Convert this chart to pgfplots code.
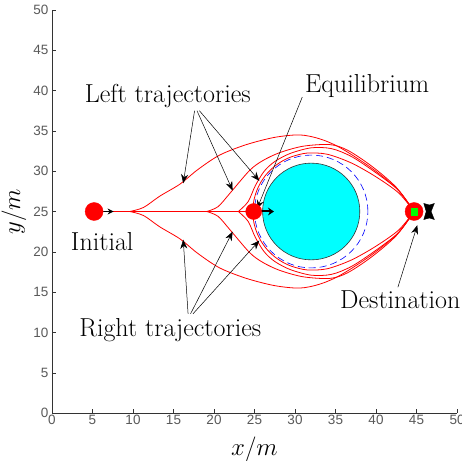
\documentclass[border=0pt]{standalone}
\usepackage{fontspec}
\usepackage{pgfplots}
\pgfplotsset{compat=1.18}
\usetikzlibrary{arrows.meta}
\newfontfamily\ticksf{Liberation Sans}
\newcommand{\labelfont}{\fontsize{26}{29}\selectfont}
\definecolor{mcyan}{rgb}{0,1,1}
\definecolor{mgreen}{rgb}{0,1,0}

\begin{document}
\begin{tikzpicture}
    \begin{axis}[scale only axis,
                 width=405pt,
                 height=403pt,
                 xmin=0, xmax=50,
                 ymin=0, ymax=50,
                 axis lines=left,
                 axis line style={-, black!80},
                 xtick={0,5,...,50},
                 ytick={0,5,...,50},
                 tick align=inside,
                 major tick length=4pt,
                 tick style={black!80},
                 /pgf/number format/assume math mode=true,
                 tick label style={font=\ticksf\fontsize{13.5}{15}\selectfont, text=black!65},
                 xticklabel style={yshift=1pt},
                 xlabel={$x/m$},
                 ylabel={$y/m$},
                 label style={font=\labelfont},
                 xlabel style={at={(axis description cs:0.5,-0.089)}, anchor=center},
                 ylabel style={at={(axis description cs:-0.094,0.5)}, anchor=center},
                 clip=false]

        % trajectories, upper half
        \addplot[red, line width=0.8pt] coordinates {(7.4,25) (25,25)};
        \addplot[red, line width=0.8pt, smooth] coordinates {
            (9.6,25) (11.3,25.5) (13.3,26.9) (15.8,28.4) (18,30.2) (20.7,32)
            (24,33.3) (27.5,34.2) (30.6,34.5) (33.1,34) (35.6,32.9) (39.3,30.5)
            (42.6,27.8) (44.7,25)};
        \addplot[red, line width=0.8pt, smooth] coordinates {
            (19.1,25) (20.5,25.6) (22,27.3) (24.4,30.1) (26,31.3) (28.1,32.3)
            (31,33.1) (34.3,33.3) (36.5,32.6) (39.5,30.6) (42.5,28) (44.7,25)};
        \addplot[red, line width=0.8pt, smooth] coordinates {
            (23,25) (24.2,26.2) (25.1,28.2) (26.2,30) (27.5,31.2) (29.4,32.2)
            (32,32.9) (34.5,32.8) (37,31.8) (40,29.8) (42.8,27.6) (44.7,25)};
        \addplot[red, line width=0.8pt, smooth] coordinates {
            (24.8,25) (24.9,26.25) (25.23,27.46) (25.76,28.6) (26.48,29.63)
            (27.37,30.52) (28.4,31.24) (29.6,31.8) (31.5,32.25) (34,32.1)
            (37,31) (40,29.3) (42.8,27.3) (44.7,25)};

        % trajectories, lower half
        \addplot[red, line width=0.8pt, smooth] coordinates {
            (9.6,25) (11.3,24.5) (13.3,23.1) (15.8,21.6) (18,19.8) (20.7,18)
            (24,16.7) (27.5,15.8) (30.6,15.5) (33.1,16) (35.6,17.1) (39.3,19.5)
            (42.6,22.2) (44.7,25)};
        \addplot[red, line width=0.8pt, smooth] coordinates {
            (19.1,25) (20.5,24.4) (22,22.7) (24.4,19.9) (26,18.7) (28.1,17.7)
            (31,16.9) (34.3,16.7) (36.5,17.4) (39.5,19.4) (42.5,22) (44.7,25)};
        \addplot[red, line width=0.8pt, smooth] coordinates {
            (23,25) (24.2,23.8) (25.1,21.8) (26.2,20) (27.5,18.8) (29.4,17.8)
            (32,17.1) (34.5,17.2) (37,18.2) (40,20.2) (42.8,22.4) (44.7,25)};
        \addplot[red, line width=0.8pt, smooth] coordinates {
            (24.8,25) (24.9,23.75) (25.23,22.54) (25.76,21.4) (26.48,20.37)
            (27.37,19.48) (28.4,18.76) (29.6,18.2) (31.5,17.75) (34,17.9)
            (37,19) (40,20.7) (42.8,22.7) (44.7,25)};

        % obstacle and safety circle
        \draw[blue, dash pattern=on 7pt off 4pt, line width=0.6pt] (axis cs:32,25) circle[radius=7];
        \draw[fill=mcyan, draw=black!80, line width=0.6pt] (axis cs:32,25) circle[radius=6];

        % initial, equilibrium and destination points
        \addplot[only marks, mark=*, mark size=9pt, mark options={fill=red, draw=red}]
            coordinates {(5.2,25) (44.7,25)};
        \addplot[only marks, mark=*, mark size=8pt, mark options={fill=red, draw=red}]
            coordinates {(24.9,25)};
        \addplot[only marks, mark=square*, mark size=3.3pt, mark options={fill=mgreen, draw=mgreen}]
            coordinates {(44.7,25)};
        \addplot[fill=black, draw=black] coordinates {
            (45.9,26) (46.6,25.8) (47.2,26) (46.8,25) (47.2,24) (46.6,24.2)
            (45.9,24) (46.2,25)} -- cycle;

        % heading arrows
        \draw[black, line width=0.8pt, -{Stealth[length=6pt, width=6pt]}] (axis cs:5.2,25) -- (axis cs:7.6,25);
        \draw[black, line width=2pt, -{Stealth[length=6pt, width=8pt]}] (axis cs:24.9,25) -- (axis cs:27.4,25);

        % annotations
        \node[font=\labelfont] at (axis cs:14.3,39.3) {Left trajectories};
        \node[font=\labelfont] at (axis cs:14.6,10.3) {Right trajectories};
        \node[font=\labelfont] at (axis cs:38.9,40.6) {Equilibrium};
        \node[font=\labelfont] at (axis cs:43,14.1) {Destination};
        \node[font=\labelfont] at (axis cs:6.2,21.3) {Initial};

        \draw[black, line width=0.5pt, -{Stealth[length=9pt, width=7pt]}] (axis cs:17.6,37.5) -- (axis cs:16.2,28.5);
        \draw[black, line width=0.5pt, -{Stealth[length=9pt, width=7pt]}] (axis cs:17.9,37.5) -- (axis cs:22.3,27.6);
        \draw[black, line width=0.5pt, -{Stealth[length=9pt, width=7pt]}] (axis cs:18.2,37.5) -- (axis cs:25.6,28.8);
        \draw[black, line width=0.5pt, -{Stealth[length=9pt, width=7pt]}] (axis cs:16.8,12.3) -- (axis cs:16.2,21.5);
        \draw[black, line width=0.5pt, -{Stealth[length=9pt, width=7pt]}] (axis cs:17.1,12.3) -- (axis cs:22.3,22.5);
        \draw[black, line width=0.5pt, -{Stealth[length=9pt, width=7pt]}] (axis cs:17.4,12.3) -- (axis cs:25.6,21.4);
        \draw[black, line width=0.5pt, -{Stealth[length=9pt, width=7pt]}] (axis cs:30.9,39.2) -- (axis cs:25.3,25.3);
        \draw[black, line width=0.5pt, -{Stealth[length=9pt, width=7pt]}] (axis cs:42.7,15.6) -- (axis cs:45.1,23.3);
    \end{axis}
    \pgfresetboundingbox
    \path[use as bounding box] (-52pt,-47pt) rectangle (410pt,413pt);
\end{tikzpicture}
\end{document}
